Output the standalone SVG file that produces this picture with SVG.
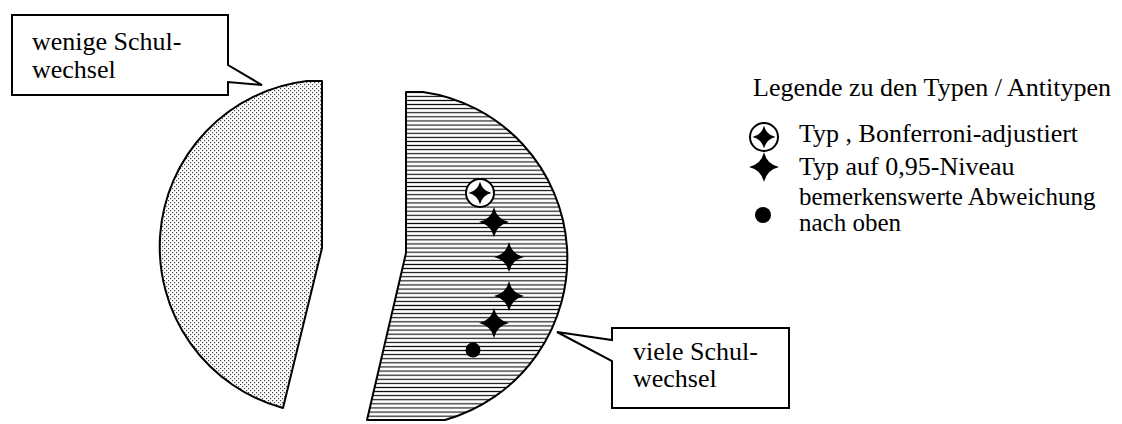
<svg xmlns="http://www.w3.org/2000/svg" width="1122" height="424" viewBox="0 0 1122 424">
  <defs>
    <pattern id="dots" width="4" height="4" patternUnits="userSpaceOnUse">
      <rect x="0" y="0" width="1.2" height="1.2" fill="#444"/>
      <rect x="2" y="2" width="1.2" height="1.2" fill="#444"/>
    </pattern>
    <pattern id="hatch" width="8" height="4.1" patternUnits="userSpaceOnUse">
      <rect x="0" y="1.5" width="8" height="1.1" fill="#000"/>
    </pattern>
    <path id="star" d="M0,-15 Q2.8,-2.8 15,0 Q2.8,2.8 0,15 Q-2.8,2.8 -15,0 Q-2.8,-2.8 0,-15 Z"/>
    <path id="starS" d="M0,-11.5 Q2.2,-2.2 11.5,0 Q2.2,2.2 0,11.5 Q-2.2,2.2 -11.5,0 Q-2.2,-2.2 0,-11.5 Z"/>
    <g id="cstar">
      <circle r="14" fill="#fff" stroke="#000" stroke-width="2"/>
      <use href="#starS" fill="#000"/>
    </g>
  </defs>
  <style>
    .shape { stroke: #000; stroke-width: 2; stroke-linejoin: round; }
    .box { fill: #fff; stroke: #000; stroke-width: 2; stroke-linejoin: miter; }
    text { font-family: "Liberation Serif", "Times New Roman", serif; font-size: 26px; fill: #000; }
    .tight { font-size: 25px; }
  </style>
  <rect width="1122" height="424" fill="#fff"/>

  <g id="wenige-shape">
    <path class="shape" fill="url(#dots)" d="M322,81 L322,248 L283,408 A167,167 0 0 1 307,81 Z"/>
  </g>

  <g id="viele-shape">
    <path class="shape" fill="url(#hatch)" d="M406,92 L406,253 L367,420 L445,420 A168,168 0 0 0 423,92 Z"/>
    <use href="#cstar" x="480" y="193"/>
    <use href="#star" x="494" y="222"/>
    <use href="#star" x="509" y="257"/>
    <use href="#star" x="509" y="296"/>
    <use href="#star" x="494" y="323"/>
    <circle cx="473" cy="350" r="7.5" fill="#000"/>
  </g>

  <g id="callout-wenige">
    <path class="box" d="M12,15 H228 V65 L262,85 L228,82 V95 H12 Z"/>
    <text x="32" y="50">wenige Schul-</text>
    <text x="32" y="78">wechsel</text>
  </g>

  <g id="callout-viele">
    <path class="box" d="M612,328 H789 V408 H612 V361 L557,332 L612,340 Z"/>
    <text x="633" y="360">viele Schul-</text>
    <text x="633" y="387">wechsel</text>
  </g>

  <g id="legend">
    <text x="753" y="96">Legende zu den Typen / Antitypen</text>
    <use href="#cstar" x="764" y="137"/>
    <text x="799" y="142">Typ , Bonferroni-adjustiert</text>
    <use href="#star" x="764" y="167"/>
    <text x="799" y="175">Typ auf 0,95-Niveau</text>
    <circle cx="763" cy="215" r="8" fill="#000"/>
    <text class="tight" x="799" y="205">bemerkenswerte Abweichung</text>
    <text class="tight" x="799" y="231">nach oben</text>
  </g>
</svg>
